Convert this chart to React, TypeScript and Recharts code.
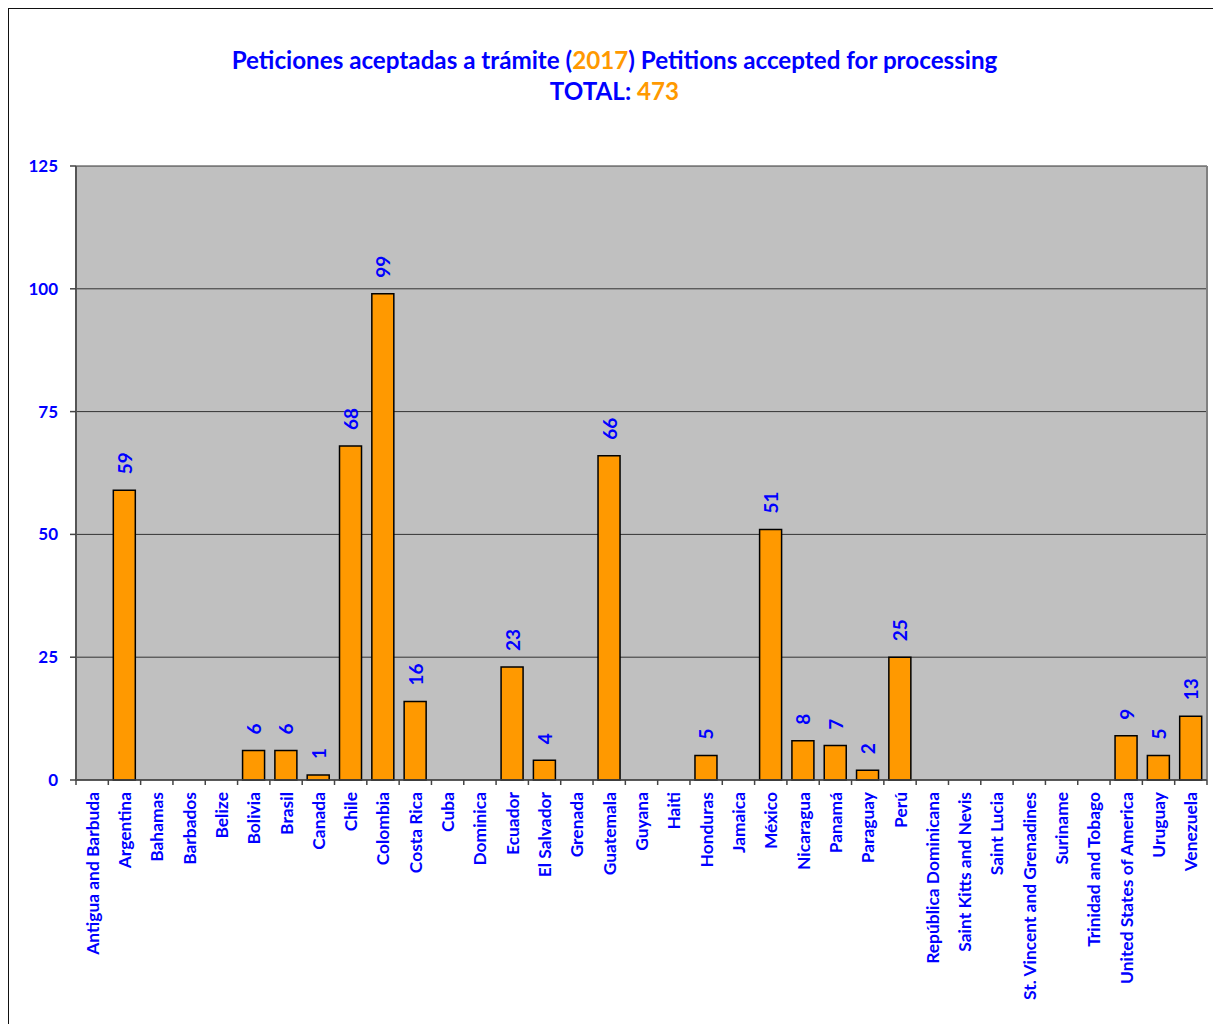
import React from "react";
import { BarChart, Bar, XAxis, YAxis, CartesianGrid, LabelList } from "recharts";

const countries = [
  "Antigua and Barbuda", "Argentina", "Bahamas", "Barbados", "Belize", "Bolivia", "Brasil", "Canada",
  "Chile", "Colombia", "Costa Rica", "Cuba", "Dominica", "Ecuador", "El Salvador", "Grenada",
  "Guatemala", "Guyana", "Haiti", "Honduras", "Jamaica", "México", "Nicaragua", "Panamá",
  "Paraguay", "Perú", "República Dominicana", "Saint Kitts and Nevis", "Saint Lucia",
  "St. Vincent and Grenadines", "Suriname", "Trinidad and Tobago", "United States of America",
  "Uruguay", "Venezuela",
];
const petitions = [
  0, 59, 0, 0, 0, 6, 6, 1, 68, 99, 16, 0, 0, 23, 4, 0, 66, 0, 0, 5, 0, 51, 8, 7, 2, 25,
  0, 0, 0, 0, 0, 0, 9, 5, 13,
];
const yTicks = [0, 25, 50, 75, 100, 125];
const titleYear = "2017";
const total = "473";

const data = countries.map((name, i) => ({ name, value: petitions[i] }));

const FONT = "Lato, sans-serif";
const BLUE = "#0000FF";
const ORANGE = "#FF9900";

const W = 1213;
const H = 1015;
const M = { top: 157, right: 15, left: 0, bottom: 14 };
const YW = 67;
const XH = 230;
const BAND = (W - M.left - M.right - YW) / countries.length;

const XTick = (props: any) => {
  const { x, y, payload, index } = props;
  const last = index === countries.length - 1;
  return (
    <g>
      <line x1={x - BAND / 2} y1={y - 8} x2={x - BAND / 2} y2={y - 3} stroke="#444" strokeWidth={1.5} />
      {last && <line x1={x + BAND / 2} y1={y - 8} x2={x + BAND / 2} y2={y - 3} stroke="#444" strokeWidth={1.5} />}
      <text
        x={x}
        y={y + 4}
        transform={`rotate(-90, ${x}, ${y + 4})`}
        textAnchor="end"
        dominantBaseline="central"
        fill={BLUE}
        fontFamily={FONT}
        fontWeight="bold"
        fontSize={17.4}
      >
        {payload.value}
      </text>
    </g>
  );
};

const ValueLabel = (props: any) => {
  const { x, y, width, value } = props;
  if (!value) return null;
  const cx = x + width / 2;
  const ty = y - 16;
  return (
    <text
      x={cx}
      y={ty}
      transform={`rotate(-90, ${cx}, ${ty})`}
      textAnchor="start"
      dominantBaseline="central"
      fill={BLUE}
      fontFamily={FONT}
      fontWeight="bold"
      fontSize={19}
    >
      {value}
    </text>
  );
};

export default function App() {
  return (
    <div
      style={{
        position: "relative",
        width: W,
        height: H,
        background: "#fff",
        border: "1px solid #111",
      }}
    >
      <div
        style={{
          position: "absolute",
          left: 0,
          top: 35,
          width: 1211,
          textAlign: "center",
          fontFamily: FONT,
          fontWeight: "bold",
          fontSize: 24.2,
          lineHeight: "31px",
          color: BLUE,
        }}
      >
        <div>
          Peticiones aceptadas a trámite (<span style={{ color: ORANGE }}>{titleYear}</span>) Petitions accepted for processing
        </div>
        <div>
          TOTAL: <span style={{ color: ORANGE }}>{total}</span>
        </div>
      </div>
      <BarChart width={W} height={H} data={data} margin={M} barSize={22}>
        <CartesianGrid vertical={false} stroke="#333" fill="#C0C0C0" strokeWidth={1} />
        <CartesianGrid
          horizontal={false}
          stroke="#808080"
          strokeWidth={2}
          verticalCoordinatesGenerator={({ offset }: any) => [offset.left + offset.width]}
        />
        <XAxis
          dataKey="name"
          interval={0}
          height={XH}
          tick={<XTick />}
          tickLine={false}
          axisLine={{ stroke: "#444", strokeWidth: 1.5 }}
        />
        <YAxis
          width={YW}
          domain={[0, 125]}
          ticks={yTicks}
          interval={0}
          tickLine={{ stroke: "#444", strokeWidth: 1.5 }}
          tickSize={6}
          axisLine={{ stroke: "#555", strokeWidth: 2 }}
          tick={{ fill: BLUE, fontFamily: FONT, fontWeight: "bold", fontSize: 17 }}
          tickMargin={12}
        />
        <Bar dataKey="value" fill={ORANGE} stroke="#000" strokeWidth={1.5} isAnimationActive={false}>
          <LabelList dataKey="value" content={<ValueLabel />} />
        </Bar>
      </BarChart>
    </div>
  );
}
